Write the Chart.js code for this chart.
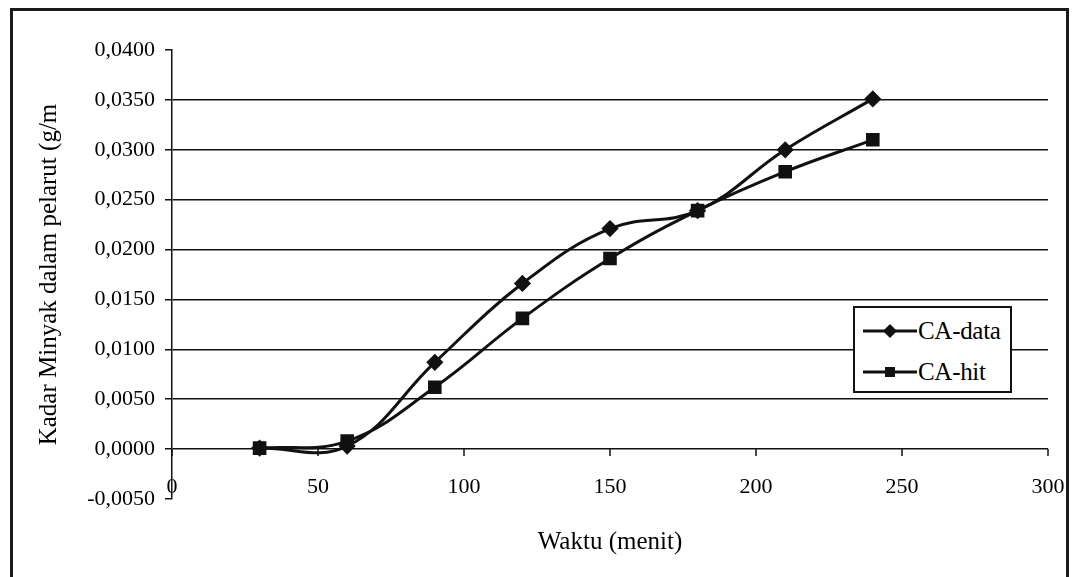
<!DOCTYPE html>
<html>
<head>
<meta charset="utf-8">
<script src="https://cdn.jsdelivr.net/npm/chart.js@4.4.0/dist/chart.umd.min.js"></script>
<style>
  html, body { margin: 0; padding: 0; background: #fff; }
  #wrap { position: relative; width: 1077px; height: 577px; overflow: hidden; background: #fff; }
  #c { position: absolute; left: 0; top: 0; }
  #frame { position: absolute; left: 10px; top: 8px; width: 1053px; height: 600px; border: 3px solid #1a1a1a; pointer-events: none; }
  #legend { position: absolute; left: 853px; top: 306px; width: 155px; height: 83px; border: 2px solid #111; background: #fff;
            font-family: "Liberation Serif", serif; font-size: 25px; color: #000; }
  .row { position: absolute; left: 8px; height: 26px; display: flex; align-items: center; }
  .row svg { display: block; }
  .row span { margin-left: 1px; line-height: 26px; letter-spacing: -0.3px; }
</style>
</head>
<body>
<div id="wrap">
  <canvas id="c" width="1077" height="577"></canvas>
  <div id="frame"></div>
  <div id="legend">
    <div class="row" style="top:10px"><svg width="54" height="16"><line x1="0" y1="8" x2="54" y2="8" stroke="#111" stroke-width="3"/><polygon points="27,1 34,8 27,15 20,8" fill="#111"/></svg><span id="l1"></span></div>
    <div class="row" style="top:51px"><svg width="54" height="16"><line x1="0" y1="8" x2="54" y2="8" stroke="#111" stroke-width="3"/><rect x="22" y="3" width="10" height="10" fill="#111"/></svg><span id="l2"></span></div>
  </div>
</div>
<script>
const times = [30, 60, 90, 120, 150, 180, 210, 240];
const caData = [0.0001, 0.0003, 0.0087, 0.0166, 0.0221, 0.0239, 0.0300, 0.0351];
const caHit = [0.0001, 0.0008, 0.0062, 0.0131, 0.0191, 0.0239, 0.0278, 0.0310];
const seriesNames = ['CA-data', 'CA-hit'];
const xTitle = 'Waktu (menit)';
const yTitle = 'Kadar Minyak dalam pelarut (g/m';

document.getElementById('l1').textContent = seriesNames[0];
document.getElementById('l2').textContent = seriesNames[1];

const FONT = '"Liberation Serif", serif';
const INK = '#111';

// small tick marks under the zero line, and the x tick labels placed like the original
const zeroAxis = {
  id: 'zeroAxis',
  afterDatasetsDraw(chart) {
    const x = chart.scales.x, y = chart.scales.y;
    const y0 = y.getPixelForValue(0);
    const yb = y.getPixelForValue(y.min);
    const ctx = chart.ctx;
    ctx.save();
    ctx.strokeStyle = INK;
    ctx.lineWidth = 1.5;
    ctx.fillStyle = '#000';
    ctx.font = '22px ' + FONT;
    ctx.textAlign = 'center';
    ctx.textBaseline = 'middle';
    x.ticks.forEach(t => {
      const px = x.getPixelForValue(t.value);
      ctx.beginPath();
      ctx.moveTo(px, y0);
      ctx.lineTo(px, y0 + 7);
      ctx.stroke();
      ctx.fillText(t.label, px, yb - 12);
    });
    ctx.restore();
  }
};

new Chart(document.getElementById('c'), {
  type: 'line',
  data: {
    datasets: [
      {
        label: seriesNames[0],
        data: times.map((t, i) => ({ x: t, y: caData[i] })),
        borderColor: INK, backgroundColor: INK, borderWidth: 3,
        pointStyle: 'rectRot', pointRadius: 6.5, pointHoverRadius: 6.5,
        tension: 0.4, fill: false
      },
      {
        label: seriesNames[1],
        data: times.map((t, i) => ({ x: t, y: caHit[i] })),
        borderColor: INK, backgroundColor: INK, borderWidth: 3,
        pointStyle: 'rect', pointRadius: 7.5, pointHoverRadius: 7.5,
        tension: 0.4, fill: false
      }
    ]
  },
  options: {
    responsive: false,
    animation: false,
    events: [],
    layout: { padding: { left: 0, right: 29, top: 50, bottom: 0 } },
    plugins: { legend: { display: false }, tooltip: { enabled: false } },
    scales: {
      x: {
        type: 'linear', min: 0, max: 300,
        ticks: { stepSize: 50, display: false },
        grid: { display: false, drawTicks: false },
        border: { display: false },
        title: { display: true, text: xTitle, color: '#000', font: { family: FONT, size: 25 }, padding: { top: 20, bottom: 20 } },
        afterFit(s) { s.height = 78; }
      },
      y: {
        min: -0.005, max: 0.04,
        ticks: {
          stepSize: 0.005, color: '#000', font: { family: FONT, size: 22 }, padding: 10,
          callback: v => (v < 0 ? '-' : '') + Math.abs(v).toFixed(4).replace('.', ',')
        },
        grid: {
          color: ctx => (ctx.tick && (Math.abs(ctx.tick.value - 0.04) < 1e-9 || Math.abs(ctx.tick.value + 0.005) < 1e-9)) ? 'rgba(0,0,0,0)' : INK,
          lineWidth: 1.5, tickLength: 7, tickColor: INK, tickWidth: 1.5
        },
        border: { display: true, color: INK, width: 1.5 },
        title: { display: true, text: yTitle, color: '#000', font: { family: FONT, size: 25 }, padding: { top: 34, bottom: 0 } },
        afterFit(s) { s.width = 172; }
      }
    }
  },
  plugins: [zeroAxis]
});
</script>
</body>
</html>
